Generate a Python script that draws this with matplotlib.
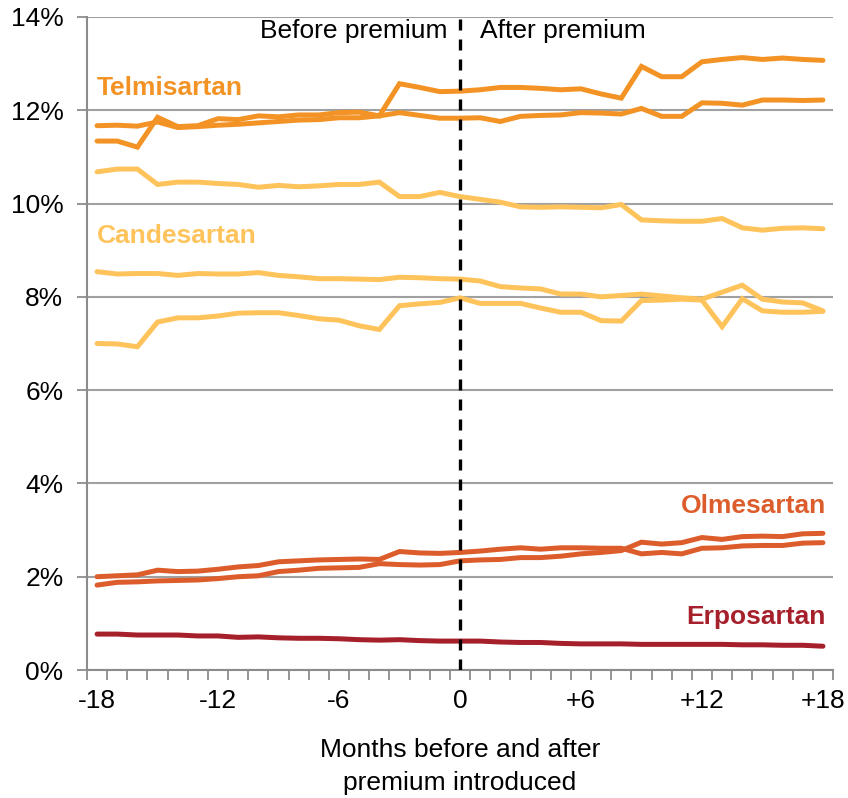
import matplotlib
matplotlib.use("Agg")
import matplotlib.pyplot as plt
from matplotlib.ticker import FixedLocator, FuncFormatter

plt.rcParams['font.family'] = ['Liberation Sans', 'DejaVu Sans']

months = list(range(-18, 19))

telmisartan_a = [11.67, 11.68, 11.66, 11.75, 11.63, 11.65, 11.68, 11.70, 11.73, 11.76, 11.79, 11.80,
                 11.84, 11.84, 11.88, 11.95, 11.89, 11.83, 11.83,
                 11.84, 11.76, 11.87, 11.89, 11.90, 11.95, 11.94, 11.92, 12.04, 11.87, 11.87,
                 12.16, 12.15, 12.11, 12.22, 12.22, 12.21, 12.22]
telmisartan_b = [11.34, 11.34, 11.21, 11.85, 11.65, 11.67, 11.82, 11.80, 11.88, 11.86, 11.90, 11.90,
                 11.95, 11.96, 11.88, 12.57, 12.49, 12.40, 12.41,
                 12.44, 12.49, 12.49, 12.47, 12.44, 12.46, 12.35, 12.26, 12.94, 12.72, 12.72,
                 13.04, 13.09, 13.13, 13.09, 13.12, 13.09, 13.07]
candesartan_a = [10.68, 10.74, 10.74, 10.41, 10.46, 10.46, 10.43, 10.41, 10.35, 10.39, 10.36, 10.38,
                 10.41, 10.41, 10.46, 10.15, 10.15, 10.24, 10.15,
                 10.09, 10.03, 9.93, 9.92, 9.93, 9.92, 9.91, 9.98, 9.65, 9.63, 9.62,
                 9.62, 9.68, 9.48, 9.43, 9.47, 9.48, 9.46]
candesartan_b = [8.54, 8.49, 8.50, 8.50, 8.46, 8.50, 8.49, 8.49, 8.52, 8.46, 8.43, 8.39,
                 8.39, 8.38, 8.37, 8.42, 8.41, 8.39, 8.38,
                 8.34, 8.22, 8.19, 8.17, 8.06, 8.06, 8.00, 8.03, 8.06, 8.02, 7.98,
                 7.95, 8.10, 8.25, 7.95, 7.89, 7.87, 7.70]
candesartan_c = [7.00, 6.99, 6.93, 7.46, 7.55, 7.55, 7.59, 7.65, 7.66, 7.66, 7.60, 7.53,
                 7.50, 7.38, 7.30, 7.81, 7.85, 7.88, 7.98,
                 7.86, 7.86, 7.86, 7.76, 7.67, 7.67, 7.49, 7.48, 7.92, 7.93, 7.95,
                 7.93, 7.36, 7.96, 7.70, 7.67, 7.67, 7.69]
olmesartan_a = [2.00, 2.02, 2.04, 2.14, 2.11, 2.12, 2.16, 2.21, 2.24, 2.32, 2.34, 2.36,
                2.37, 2.38, 2.37, 2.54, 2.51, 2.50, 2.52,
                2.55, 2.59, 2.62, 2.59, 2.62, 2.62, 2.61, 2.61, 2.49, 2.52, 2.49,
                2.61, 2.62, 2.66, 2.67, 2.67, 2.72, 2.73]
olmesartan_b = [1.82, 1.88, 1.89, 1.91, 1.92, 1.93, 1.96, 2.00, 2.02, 2.11, 2.14, 2.18,
                2.19, 2.20, 2.28, 2.26, 2.25, 2.26, 2.34,
                2.36, 2.37, 2.41, 2.41, 2.44, 2.49, 2.52, 2.56, 2.74, 2.70, 2.73,
                2.84, 2.80, 2.86, 2.87, 2.86, 2.92, 2.93]
erposartan = [0.77, 0.77, 0.75, 0.75, 0.75, 0.73, 0.73, 0.70, 0.71, 0.69, 0.68, 0.68,
              0.67, 0.65, 0.64, 0.65, 0.63, 0.62, 0.62,
              0.62, 0.60, 0.59, 0.59, 0.57, 0.56, 0.56, 0.56, 0.55, 0.55, 0.55,
              0.55, 0.55, 0.54, 0.54, 0.53, 0.53, 0.51]

x_ticks = [-18, -12, -6, 0, 6, 12, 18]
x_tick_labels = ['-18', '-12', '-6', '0', '+6', '+12', '+18']
y_ticks = [0, 2, 4, 6, 8, 10, 12, 14]

C_TEL = '#F39325'
C_CAN = '#FFC35C'
C_OLM = '#DC5D2B'
C_ERP = '#A5202A'
GRID = '#A0A0A0'
SPINE = '#8C8C8C'

fig = plt.figure(figsize=(8.48, 7.98), dpi=100)
ax = fig.add_axes([87/848, 1 - 670/798, (833 - 87)/848, (670 - 17)/798])

lw = 3.6
for ys, c in [(candesartan_a, C_CAN), (candesartan_b, C_CAN), (candesartan_c, C_CAN),
              (telmisartan_a, C_TEL), (telmisartan_b, C_TEL),
              (olmesartan_a, C_OLM), (olmesartan_b, C_OLM), (erposartan, C_ERP)]:
    ax.plot(months, ys, color=c, lw=lw, solid_capstyle='round', solid_joinstyle='miter', zorder=3)

ax.set_xlim(-18.5, 18.5)
ax.set_ylim(0, 14)

ax.yaxis.set_major_locator(FixedLocator(y_ticks))
ax.yaxis.set_major_formatter(FuncFormatter(lambda v, p: f"{int(round(v))}%"))
ax.grid(axis='y', color=GRID, lw=1.5, zorder=1)
ax.set_axisbelow(True)

fs = 19
ax.set_xticks(x_ticks)
ax.set_xticklabels(x_tick_labels)
ax.set_xticks([m + 0.5 for m in range(-19, 19)], minor=True)
ax.tick_params(axis='x', which='major', length=0, pad=14, labelsize=fs, colors='black')
ax.tick_params(axis='x', which='minor', length=7, width=1.3, color=SPINE, direction='out')
ax.tick_params(axis='y', which='major', length=7, width=1.3, color=SPINE, direction='out',
               pad=10, labelsize=fs, labelcolor='black')

for s in ['top', 'right']:
    ax.spines[s].set_visible(False)
for s in ['left', 'bottom']:
    ax.spines[s].set_color(SPINE)
    ax.spines[s].set_linewidth(1.5)

ax.axvline(0, color='black', lw=2.4, ls=(0, (3.3, 2.7)), zorder=4)

ax.text(-0.62, 13.55, 'Before premium', ha='right', va='baseline', fontsize=fs, color='black')
ax.text(1.0, 13.55, 'After premium', ha='left', va='baseline', fontsize=fs, color='black')

bfs = 19
ax.text(-18.0, 12.33, 'Telmisartan', ha='left', va='baseline', fontsize=bfs, fontweight='bold', color=C_TEL)
ax.text(-18.0, 9.15, 'Candesartan', ha='left', va='baseline', fontsize=bfs, fontweight='bold', color=C_CAN)
ax.text(18.15, 3.36, 'Olmesartan', ha='right', va='baseline', fontsize=bfs, fontweight='bold', color=C_OLM)
ax.text(18.15, 0.98, 'Erposartan', ha='right', va='baseline', fontsize=bfs, fontweight='bold', color=C_ERP)

ax.set_xlabel('Months before and after\npremium introduced', fontsize=fs, labelpad=18, linespacing=1.45)

fig.savefig('out.png', dpi=100)
